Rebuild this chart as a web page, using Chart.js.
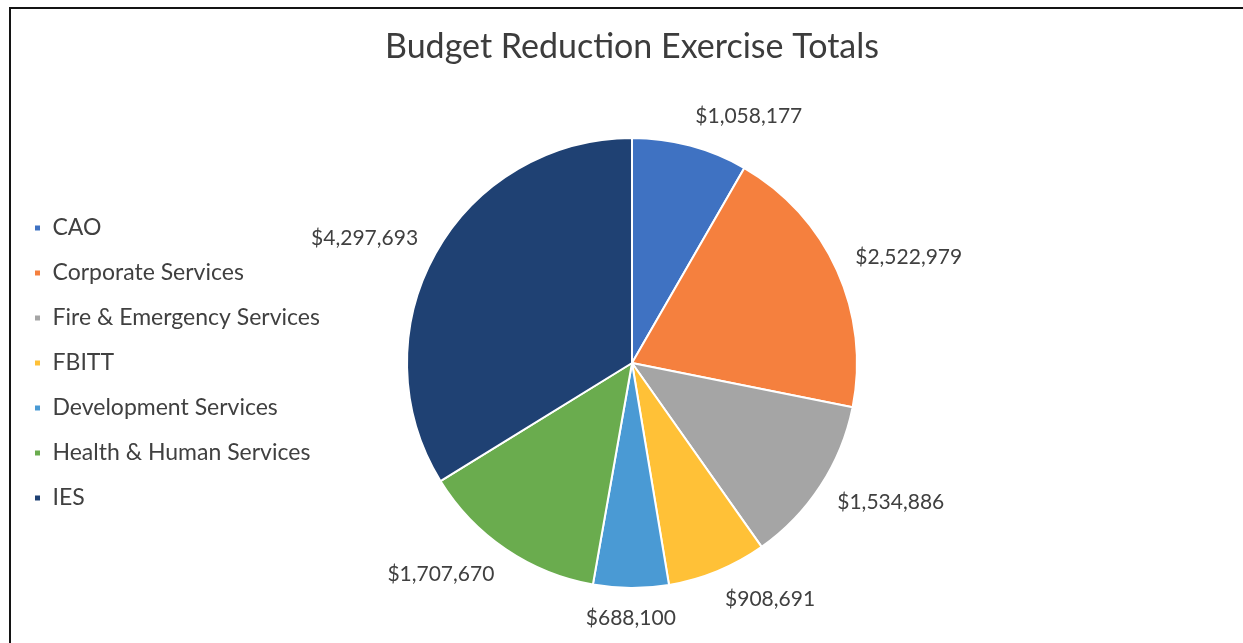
<!DOCTYPE html>
<html>
<head>
<meta charset="utf-8">
<script src="https://cdn.jsdelivr.net/npm/chart.js@4.4.1/dist/chart.umd.min.js"></script>
<style>
  html, body { margin: 0; padding: 0; background: #fff; }
  #wrap { position: relative; width: 1243px; height: 643px; overflow: hidden; }
  #frame {
    position: absolute; left: 9px; top: 7px; right: -4px; bottom: -4px;
    border-top: 2px solid #141414; border-left: 2px solid #141414;
    pointer-events: none;
  }
  canvas { position: absolute; left: 0; top: 0; }
</style>
</head>
<body>
<div id="wrap">
  <canvas id="chart" width="1243" height="643"></canvas>
  <div id="frame"></div>
</div>
<script>
// Departments and their reduction totals (dollars)
const categories = [
  'CAO',
  'Corporate Services',
  'Fire & Emergency Services',
  'FBITT',
  'Development Services',
  'Health & Human Services',
  'IES'
];
const totals = [1058177, 2522979, 1534886, 908691, 688100, 1707670, 4297693];
const sliceColors = ['#3f72c2', '#f5803e', '#a5a5a5', '#ffc137', '#4a9ad4', '#6aac4e', '#1f4173'];

const chartTitle = 'Budget Reduction Exercise Totals';
const TEXT = '#404040';
const PIE_CENTER_X = 632;

const money = v => '$' + v.toLocaleString('en-US');

// Title centred over the pie
const pieTitle = {
  id: 'pieTitle',
  afterDraw(chart) {
    const { ctx } = chart;
    const arc = chart.getDatasetMeta(0).data[0];
    ctx.save();
    ctx.font = '34px Lato';
    ctx.fillStyle = '#3c3c3c';
    ctx.textAlign = 'center';
    ctx.textBaseline = 'middle';
    ctx.fillText(chartTitle, arc.x, 47);
    ctx.restore();
  }
};

// Value labels drawn just outside each slice
const outsideLabels = {
  id: 'outsideLabels',
  afterDatasetsDraw(chart) {
    const { ctx } = chart;
    const meta = chart.getDatasetMeta(0);
    const ds = chart.data.datasets[0];
    const size = 21;
    ctx.save();
    ctx.font = `${size}px Lato`;
    ctx.fillStyle = TEXT;
    ctx.textBaseline = 'middle';
    meta.data.forEach((arc, i) => {
      const p = arc.getProps(['x', 'y', 'startAngle', 'endAngle', 'outerRadius'], true);
      const mid = (p.startAngle + p.endAngle) / 2;
      const ux = Math.cos(mid), uy = Math.sin(mid);
      const r = p.outerRadius + 20;
      const px = p.x + r * ux;
      const py = p.y + r * uy + uy * size / 2;
      ctx.textAlign = ux > 0.15 ? 'left' : (ux < -0.15 ? 'right' : 'center');
      ctx.fillText(money(ds.data[i]), px, py);
    });
    ctx.restore();
  }
};

const chart = new Chart(document.getElementById('chart'), {
  type: 'pie',
  data: {
    labels: categories,
    datasets: [{
      data: totals,
      backgroundColor: sliceColors,
      borderColor: '#ffffff',
      borderWidth: 2
    }]
  },
  options: {
    responsive: false,
    animation: false,
    layout: { padding: { left: 12, right: 320, top: 137, bottom: 54 } },
    plugins: {
      title: { display: false },
      legend: {
        position: 'left',
        align: 'center',
        labels: {
          boxWidth: 7,
          boxHeight: 7,
          padding: 22,
          color: TEXT,
          font: { family: 'Lato', size: 23 }
        }
      },
      tooltip: { enabled: false }
    }
  },
  plugins: [outsideLabels, pieTitle]
});

// Shift the plot so the pie sits at the wanted horizontal center
const ca = chart.chartArea;
const shift = (ca.left + ca.right) / 2 - PIE_CENTER_X;
chart.options.layout.padding.right += 2 * shift;
chart.update('none');
</script>
</body>
</html>
